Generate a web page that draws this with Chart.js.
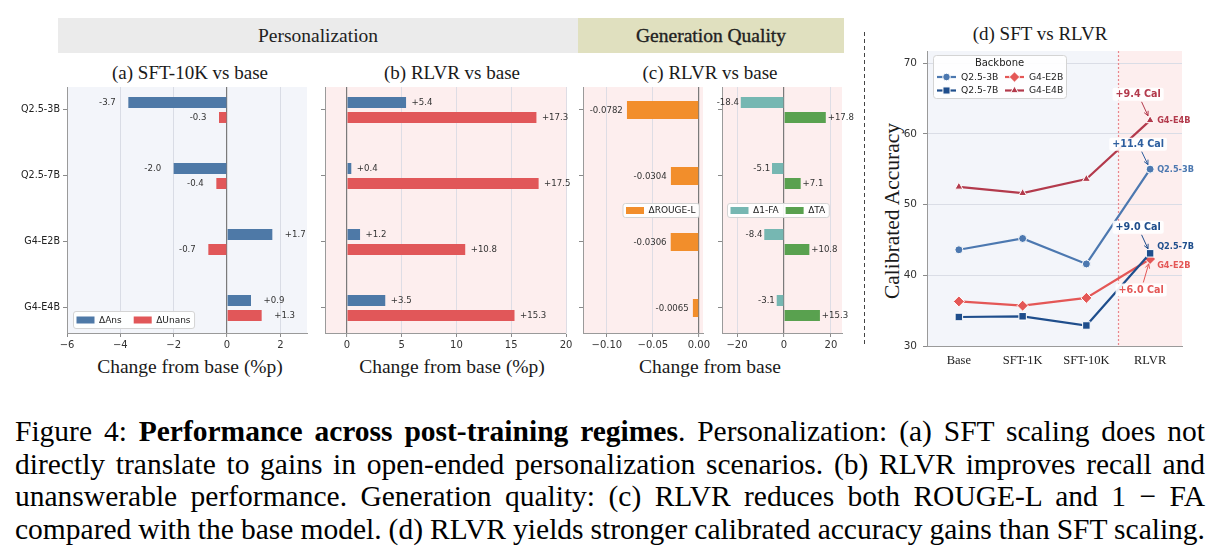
<!DOCTYPE html>
<html><head><meta charset="utf-8">
<title>Figure 4</title>
<script src="https://cdn.jsdelivr.net/npm/chart.js@4.4.1/dist/chart.umd.min.js"></script>
<style>
html,body{margin:0;padding:0;background:#fff;}
#root{position:relative;width:1220px;height:555px;overflow:hidden;}
canvas{position:absolute;}
.t{position:absolute;white-space:nowrap;transform:translate(-50%,-50%);font-family:"Liberation Serif","Times New Roman",serif;color:#1a1a1a;line-height:1;}
.band{position:absolute;top:18px;height:35px;line-height:35px;text-align:center;font-family:"Liberation Serif",serif;font-size:19.5px;color:#222;}
#sep{position:absolute;left:864px;top:32px;width:1px;height:313px;background:repeating-linear-gradient(to bottom,#444 0 4px,transparent 4px 7px);}
#cap{position:absolute;left:15px;top:415px;width:1190px;font-family:"Liberation Serif","Times New Roman",serif;font-size:29.5px;color:#000;}
#cap .ln{height:32.7px;line-height:32.7px;white-space:nowrap;}
#cap .ln span{display:inline-block;}
</style></head>
<body><div id="root">
<div class="band" style="left:58px;width:520px;background:#ebebeb;">Personalization</div>
<div class="band" style="left:578px;width:266px;background:#e0e0bf;-webkit-text-stroke:0.35px #222;">Generation Quality</div>
<div class="t" style="left:190px;top:72px;font-size:19px;">(a) SFT-10K vs base</div>
<div class="t" style="left:452px;top:72px;font-size:19px;">(b) RLVR vs base</div>
<div class="t" style="left:710px;top:72px;font-size:19px;">(c) RLVR vs base</div>
<div class="t" style="left:1040px;top:33px;font-size:19px;">(d) SFT vs RLVR</div>
<div class="t" style="left:190px;top:367px;font-size:19.5px;">Change from base (%p)</div>
<div class="t" style="left:452px;top:367px;font-size:19.5px;">Change from base (%p)</div>
<div class="t" style="left:710px;top:367px;font-size:19.5px;">Change from base</div>
<div class="t" style="left:893px;top:211px;font-size:21.5px;transform:translate(-50%,-50%) rotate(-90deg);">Calibrated Accuracy</div>
<div id="sep"></div>
<canvas id="ca"></canvas>
<canvas id="cb"></canvas>
<canvas id="cc1"></canvas>
<canvas id="cc2"></canvas>
<canvas id="cd"></canvas>
<div id="cap">
<div class="ln"><span>Figure 4: <b>Performance across post-training regimes</b>. Personalization: (a) SFT scaling does not</span></div>
<div class="ln"><span>directly translate to gains in open-ended personalization scenarios. (b) RLVR improves recall and</span></div>
<div class="ln"><span>unanswerable performance. Generation quality: (c) RLVR reduces both ROUGE-L and 1 − FA</span></div>
<div class="ln"><span>compared with the base model. (d) RLVR yields stronger calibrated accuracy gains than SFT scaling.</span></div>
</div>
</div>
<script>
// ---------------- data ----------------
const models = ['Q2.5-3B', 'Q2.5-7B', 'G4-E2B', 'G4-E4B'];
const sftAns   = [-3.7, -2.0, 1.7, 0.9];
const sftUnans = [-0.3, -0.4, -0.7, 1.3];
const rlvrAns   = [5.4, 0.4, 1.2, 3.5];
const rlvrUnans = [17.3, 17.5, 10.8, 15.3];
const rougeL     = [-0.0782, -0.0304, -0.0306, -0.0065];
const oneMinusFA = [-18.4, -5.1, -8.4, -3.1];
const trueAcc    = [17.8, 7.1, 10.8, 15.3];
const regimes = ['Base', 'SFT-1K', 'SFT-10K', 'RLVR'];
const calQ25_3B = [43.6, 45.2, 41.6, 55.0];
const calQ25_7B = [34.1, 34.2, 32.9, 43.1];
const calG4_E2B = [36.3, 35.7, 36.8, 42.3];
const calG4_E4B = [52.5, 51.6, 53.6, 61.9];
const ticksA  = [-6, -4, -2, 0, 2];
const ticksB  = [0, 5, 10, 15, 20];
const ticksC1 = [-0.10, -0.05, 0.00];
const ticksC2 = [-20, 0, 20];
const ticksD  = [30, 40, 50, 60, 70];

// ---------------- helpers ----------------
const SANS = '"DejaVu Sans", sans-serif';
const SERIF = '"Liberation Serif", "Times New Roman", serif';
Chart.defaults.font.family = SANS;

function fmtTick(v, dec){ return (v < 0 ? '\u2212' : '') + Math.abs(v).toFixed(dec); }
function place(id, r){
  const c = document.getElementById(id);
  c.width = r.w; c.height = r.h;
  c.style.left = r.x + 'px'; c.style.top = r.y + 'px';
  c.style.width = r.w + 'px'; c.style.height = r.h + 'px';
  return c;
}
function rrect(ctx, x, y, w, h, r){
  ctx.beginPath(); ctx.moveTo(x + r, y);
  ctx.arcTo(x + w, y, x + w, y + h, r); ctx.arcTo(x + w, y + h, x, y + h, r);
  ctx.arcTo(x, y + h, x, y, r); ctx.arcTo(x, y, x + w, y, r); ctx.closePath();
}
function drawMarker(ctx, style, x, y, r, fill, stroke){
  ctx.beginPath();
  if (style === 'circle') ctx.arc(x, y, r, 0, Math.PI * 2);
  else if (style === 'rect'){ const s = r * Math.SQRT1_2; ctx.rect(x - s, y - s, 2 * s, 2 * s); }
  else if (style === 'rectRot'){ ctx.moveTo(x, y - r); ctx.lineTo(x + r, y); ctx.lineTo(x, y + r); ctx.lineTo(x - r, y); ctx.closePath(); }
  else { for (let k = 0; k < 3; k++){ const an = -Math.PI / 2 + k * 2 * Math.PI / 3; const px = x + r * Math.cos(an), py = y + r * Math.sin(an); if (k) ctx.lineTo(px, py); else ctx.moveTo(px, py); } ctx.closePath(); }
  ctx.fillStyle = fill; ctx.fill();
  if (stroke){ ctx.strokeStyle = stroke; ctx.lineWidth = 1; ctx.stroke(); }
}

const plotBg = {
  id: 'plotBg',
  beforeDraw(chart, args, o){
    if (!o || !o.color) return;
    const a = chart.chartArea, c = chart.ctx;
    c.save(); c.fillStyle = o.color; c.fillRect(a.left, a.top, a.right - a.left, a.bottom - a.top); c.restore();
  }
};
const valueLabels = {
  id: 'vlabels',
  afterDatasetsDraw(chart, args, o){
    const ctx = chart.ctx, xs = chart.scales.x;
    ctx.save();
    ctx.font = '8.6px ' + SANS; ctx.fillStyle = '#333'; ctx.textBaseline = 'middle';
    chart.data.datasets.forEach((ds, di) => {
      chart.getDatasetMeta(di).data.forEach((el, i) => {
        const v = ds.data[i].x, neg = v < 0;
        ctx.textAlign = neg ? 'right' : 'left';
        ctx.fillText((neg ? '-' : '+') + Math.abs(v).toFixed(o.dec), xs.getPixelForValue(v + (neg ? -o.off : o.off)), el.y + 0.5);
      });
    });
    ctx.restore();
  }
};
const boxLegend = {
  id: 'boxLegend',
  afterDatasetsDraw(chart, args, o){
    if (!o || !o.anchor) return;
    const ctx = chart.ctx, a = chart.chartArea;
    ctx.save();
    ctx.font = '9px ' + SANS;
    const pw = 18, ph = 7, gap = 4.5, sep = o.sep, pad = 3.5, h = o.h;
    const items = chart.data.datasets.map(d => ({t: d.label, c: d.backgroundColor, w: ctx.measureText(d.label).width}));
    const w = pad * 2 + items.reduce((s, it, k) => s + pw + gap + it.w + (k ? sep : 0), 0);
    let x0, y0;
    if (o.anchor === 'bl'){ x0 = a.left + o.dx; y0 = a.bottom - o.dy - h; }
    else if (o.anchor === 'cr'){ x0 = a.right - o.dx - w; y0 = (a.top + a.bottom) / 2 - h / 2; }
    else { x0 = a.left + o.dx; y0 = (a.top + a.bottom) / 2 - h / 2; }
    rrect(ctx, x0 + 0.5, y0 + 0.5, w, h, 2.5);
    ctx.fillStyle = 'rgba(255,255,255,0.92)'; ctx.fill();
    ctx.strokeStyle = '#d4d4d4'; ctx.lineWidth = 1; ctx.stroke();
    let x = x0 + pad; const cy = y0 + h / 2 + 0.5;
    ctx.textBaseline = 'middle'; ctx.textAlign = 'left';
    items.forEach((it, k) => {
      if (k) x += sep;
      ctx.fillStyle = it.c; ctx.fillRect(x, cy - ph / 2, pw, ph);
      x += pw + gap;
      ctx.fillStyle = '#222'; ctx.fillText(it.t, x, cy + 0.5);
      x += it.w;
    });
    ctx.restore();
  }
};

function barPanel(id, rect, area, cfg){
  const cv = place(id, rect);
  const leftW = area.l - rect.x, topP = area.t - rect.y, rightP = rect.x + rect.w - area.r, botH = rect.y + rect.h - area.b;
  const zero = s => { s.paddingLeft = 0; s.paddingRight = 0; s.paddingTop = 0; s.paddingBottom = 0; };
  return new Chart(cv, {
    type: 'bar',
    data: { datasets: cfg.series.map(s => ({
      label: s.label, data: s.values.map((v, i) => ({x: v, y: i})),
      backgroundColor: s.color, borderWidth: 0,
      categoryPercentage: cfg.cat, barPercentage: cfg.bar
    }))},
    options: {
      indexAxis: 'y', responsive: false, animation: false, events: [],
      layout: { padding: { left: 0, top: topP, right: rightP, bottom: 0 } },
      plugins: { legend: {display: false}, tooltip: {enabled: false},
        plotBg: {color: cfg.bg}, vlabels: {off: cfg.off, dec: cfg.dec}, boxLegend: cfg.legend },
      scales: {
        x: { type: 'linear', min: cfg.xmin, max: cfg.xmax, offset: false,
          afterBuildTicks: s => { s.ticks = cfg.ticks.map(v => ({value: v})); },
          afterFit: s => { s.height = botH; zero(s); },
          grid: { color: c => (c.tick && c.tick.value === 0) ? '#7a7a7a' : cfg.gridColor,
                  lineWidth: c => (c.tick && c.tick.value === 0) ? 1.2 : 1,
                  drawTicks: true, tickLength: 4, tickColor: '#8a8a8a', tickWidth: 1 },
          border: { display: true, color: '#9a9a9a', width: 1 },
          ticks: { autoSkip: false, maxRotation: 0, padding: 2, color: '#333', font: {family: SANS, size: 10},
                   callback: v => fmtTick(v, cfg.tdec) }
        },
        y: { type: 'linear', reverse: true, min: -0.348, max: 3.379, offset: false,
          afterBuildTicks: s => { s.ticks = models.map((m, i) => ({value: i})); },
          afterFit: s => { s.width = leftW; zero(s); },
          grid: { drawOnChartArea: false, drawTicks: true, tickLength: 4, tickColor: '#8a8a8a', offset: false },
          border: { display: true, color: '#9a9a9a', width: 1 },
          ticks: { display: !!cfg.showY, padding: 3, color: '#222', font: {family: SANS, size: 9.6},
                   callback: v => models[v] }
        }
      }
    },
    plugins: [plotBg, valueLabels, boxLegend]
  });
}

const C_ANS = '#4e79a7', C_UNANS = '#e15759', C_ROUGE = '#f28e2b', C_FA = '#76b7b2', C_TA = '#59a14f';

barPanel('ca', {x: 0, y: 80, w: 315, h: 280}, {l: 67, t: 87, r: 307, b: 333}, {
  series: [{label: 'ΔAns', values: sftAns, color: C_ANS}, {label: 'ΔUnans', values: sftUnans, color: C_UNANS}],
  xmin: -6, xmax: 3.0, ticks: ticksA, tdec: 0, bg: '#f3f5fa', gridColor: '#d9dce5',
  off: 0.47, dec: 1, showY: true, cat: 0.4545, bar: 0.7333,
  legend: {anchor: 'bl', dx: 6, dy: 5, h: 17, sep: 12}
});
barPanel('cb', {x: 315, y: 80, w: 266, h: 280}, {l: 325, t: 87, r: 566, b: 333}, {
  series: [{label: 'ΔAns', values: rlvrAns, color: C_ANS}, {label: 'ΔUnans', values: rlvrUnans, color: C_UNANS}],
  xmin: -2, xmax: 20, ticks: ticksB, tdec: 0, bg: '#fdeeee', gridColor: '#dedde5',
  off: 0.5, dec: 1, showY: false, cat: 0.4545, bar: 0.7333, legend: {}
});
barPanel('cc1', {x: 573, y: 80, w: 145, h: 280}, {l: 583, t: 87, r: 703, b: 333}, {
  series: [{label: 'ΔROUGE-L', values: rougeL, color: C_ROUGE}],
  xmin: -0.126, xmax: 0.0045, ticks: ticksC1, tdec: 2, bg: '#fdeeee', gridColor: '#dedde5',
  off: 0.0045, dec: 4, showY: false, cat: 0.4545, bar: 0.6,
  legend: {anchor: 'cr', dx: 4, h: 14, sep: 9}
});
barPanel('cc2', {x: 712, y: 80, w: 145, h: 280}, {l: 722, t: 87, r: 842, b: 333}, {
  series: [{label: 'Δ1-FA', values: oneMinusFA, color: C_FA}, {label: 'ΔTA', values: trueAcc, color: C_TA}],
  xmin: -26.4, xmax: 24.7, ticks: ticksC2, tdec: 0, bg: '#fdeeee', gridColor: '#dedde5',
  off: 0.8, dec: 1, showY: false, cat: 0.4545, bar: 0.7333,
  legend: {anchor: 'cl', dx: 5, h: 14, sep: 7}
});

// ---------------- panel (d) ----------------
const lineSeries = [
  {label: 'Q2.5-3B', values: calQ25_3B, color: '#4c78b0', annColor: '#2d5e9e', style: 'circle', r: 4},
  {label: 'Q2.5-7B', values: calQ25_7B, color: '#1f4e8c', annColor: '#1f4e8c', style: 'rect', r: 5.3},
  {label: 'G4-E2B', values: calG4_E2B, color: '#e45756', annColor: '#e45756', style: 'rectRot', r: 5.5},
  {label: 'G4-E4B', values: calG4_E4B, color: '#b33a4c', annColor: '#b33a4c', style: 'triangle', r: 4.6}
];
// label placement offsets (pixels) relative to the RLVR point of each series
const annotLayout = [
  {dx: -12, dy: -25, ndy: 0},
  {dx: -12, dy: -26, ndy: -7},
  {dx: -9, dy: 31, ndy: 6},
  {dx: -12, dy: -26, ndy: 0}
];

const dPanel = {
  id: 'dPanel',
  beforeDraw(chart){
    const a = chart.chartArea, ctx = chart.ctx, xd = chart.scales.x.getPixelForValue(2.5);
    ctx.save();
    ctx.fillStyle = '#f3f5fa'; ctx.fillRect(a.left, a.top, xd - a.left, a.bottom - a.top);
    ctx.fillStyle = '#fdeeee'; ctx.fillRect(xd, a.top, a.right - xd, a.bottom - a.top);
    ctx.restore();
  },
  beforeDatasetsDraw(chart){
    const a = chart.chartArea, ctx = chart.ctx, xd = Math.round(chart.scales.x.getPixelForValue(2.5)) + 0.5;
    ctx.save(); ctx.strokeStyle = '#e8868e'; ctx.lineWidth = 1.2; ctx.setLineDash([2, 2]);
    ctx.beginPath(); ctx.moveTo(xd, a.top); ctx.lineTo(xd, a.bottom); ctx.stroke(); ctx.restore();
  },
  afterDatasetsDraw(chart){
    const ctx = chart.ctx, a = chart.chartArea;
    lineSeries.forEach((s, i) => {
      const L = annotLayout[i];
      const pt = chart.getDatasetMeta(i).data[3];
      const gain = s.values[3] - s.values[0];
      const txt = '+' + gain.toFixed(1) + ' Cal';
      ctx.save();
      ctx.font = 'bold 9.6px ' + SANS;
      const w = ctx.measureText(txt).width, h = 13;
      const cx = pt.x + L.dx, cy = pt.y + L.dy;
      const vx = pt.x - cx, vy = pt.y - cy, len = Math.hypot(vx, vy), ux = vx / len, uy = vy / len;
      const k = (h / 2 + 1) / Math.abs(uy);
      const sx = cx + ux * k, sy = cy + uy * k, ex = pt.x - ux * 5, ey = pt.y - uy * 5;
      ctx.strokeStyle = s.annColor; ctx.lineWidth = 1;
      ctx.beginPath(); ctx.moveTo(sx, sy); ctx.lineTo(ex, ey); ctx.stroke();
      const ang = Math.atan2(ey - sy, ex - sx);
      ctx.beginPath();
      ctx.moveTo(ex - 5 * Math.cos(ang - 0.45), ey - 5 * Math.sin(ang - 0.45));
      ctx.lineTo(ex, ey);
      ctx.lineTo(ex - 5 * Math.cos(ang + 0.45), ey - 5 * Math.sin(ang + 0.45));
      ctx.stroke();
      rrect(ctx, cx - w / 2 - 3, cy - h / 2, w + 6, h, 2);
      ctx.fillStyle = 'rgba(255,255,255,0.9)'; ctx.fill();
      ctx.fillStyle = s.annColor; ctx.textAlign = 'center'; ctx.textBaseline = 'middle';
      ctx.fillText(txt, cx, cy + 0.5);
      ctx.font = 'bold 8.2px ' + SANS; ctx.textAlign = 'left'; ctx.fillStyle = s.color;
      ctx.fillText(s.label, pt.x + 7, pt.y + L.ndy + 0.5);
      ctx.restore();
    });
    ctx.save();
    const bx = a.left + 6, by = a.top + 4, bw = 133, bh = 43;
    rrect(ctx, bx + 0.5, by + 0.5, bw, bh, 3);
    ctx.fillStyle = 'rgba(255,255,255,0.9)'; ctx.fill();
    ctx.strokeStyle = '#d4d4d4'; ctx.lineWidth = 1; ctx.stroke();
    ctx.fillStyle = '#222'; ctx.textAlign = 'center'; ctx.textBaseline = 'middle';
    ctx.font = '10px ' + SANS; ctx.fillText('Backbone', bx + bw / 2, by + 8.5);
    ctx.font = '9.2px ' + SANS; ctx.textAlign = 'left';
    lineSeries.forEach((s, i) => {
      const col = i < 2 ? 0 : 1, row = i % 2;
      const lx = bx + 4 + col * 68, ly = by + 22 + row * 13.5;
      ctx.strokeStyle = s.color; ctx.lineWidth = 2.2;
      ctx.beginPath(); ctx.moveTo(lx, ly); ctx.lineTo(lx + 19, ly); ctx.stroke();
      drawMarker(ctx, s.style, lx + 9.5, ly, s.r * 0.95, s.color, '#fff');
      ctx.fillStyle = '#222'; ctx.fillText(s.label, lx + 24, ly + 0.5);
    });
    ctx.restore();
  }
};

(function(){
  const rect = {x: 870, y: 40, w: 350, h: 340}, area = {l: 927, t: 51, r: 1182, b: 346};
  const cv = place('cd', rect);
  const zero = s => { s.paddingLeft = 0; s.paddingRight = 0; s.paddingTop = 0; s.paddingBottom = 0; };
  new Chart(cv, {
    type: 'line',
    data: { labels: regimes, datasets: lineSeries.map(s => ({
      label: s.label, data: s.values, borderColor: s.color, backgroundColor: s.color,
      borderWidth: 2.2, pointStyle: s.style, pointRadius: s.r, pointBackgroundColor: s.color,
      pointBorderColor: '#ffffff', pointBorderWidth: 1, tension: 0, fill: false
    }))},
    options: {
      responsive: false, animation: false, events: [],
      layout: { padding: { left: 0, top: area.t - rect.y, right: rect.x + rect.w - area.r, bottom: 0 } },
      plugins: { legend: {display: false}, tooltip: {enabled: false} },
      scales: {
        x: { type: 'category', offset: true,
          afterFit: s => { s.height = rect.y + rect.h - area.b; zero(s); },
          grid: { drawOnChartArea: false, drawTicks: false },
          border: { display: true, color: '#9a9a9a', width: 1 },
          ticks: { padding: 7, color: '#222', font: {family: SERIF, size: 12.5}, maxRotation: 0, autoSkip: false }
        },
        y: { type: 'linear', min: 30, max: 71.7,
          afterBuildTicks: s => { s.ticks = ticksD.map(v => ({value: v})); },
          afterFit: s => { s.width = area.l - rect.x; zero(s); },
          grid: { color: c => (c.tick && c.tick.value === 30) ? 'rgba(0,0,0,0)' : '#dadde6',
                  drawTicks: true, tickLength: 4, tickColor: '#8a8a8a' },
          border: { display: true, color: '#9a9a9a', width: 1 },
          ticks: { padding: 6, color: '#333', font: {family: SANS, size: 10.5}, callback: v => String(v) }
        }
      }
    },
    plugins: [dPanel]
  });
})();

// ---------------- caption justification ----------------
document.querySelectorAll('#cap .ln span').forEach(sp => {
  const w = sp.getBoundingClientRect().width;
  const n = (sp.textContent.match(/ /g) || []).length;
  if (n) sp.style.wordSpacing = ((1190 - w) / n) + 'px';
});
</script>
</body></html>
